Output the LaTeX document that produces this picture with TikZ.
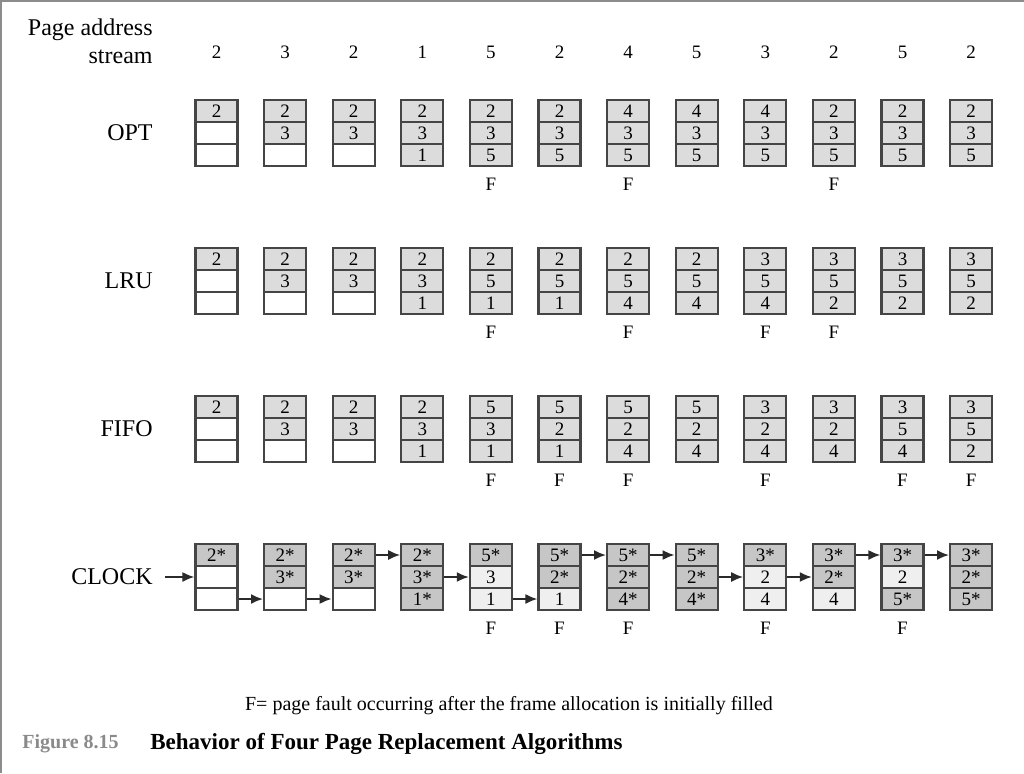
\documentclass[tikz,border=0pt]{standalone}
\usepackage{fontspec}
\setmainfont{Liberation Serif}
\usetikzlibrary{arrows.meta}

\definecolor{framegray}{HTML}{454545}
\definecolor{cellgray}{HTML}{DCDCDC}
\definecolor{setbit}{HTML}{C6C6C6}
\definecolor{clrbit}{HTML}{EFEFEF}
\definecolor{arrowgray}{HTML}{2A2A2A}
\definecolor{bordergray}{HTML}{8C8C8C}
\definecolor{figgray}{HTML}{8A8A8A}

\begin{document}
\begin{tikzpicture}[
    x=0.5pt, y=-0.5pt,
    cell/.style={draw=framegray, line width=1.1pt, fill=white, minimum width=21pt,
      minimum height=11pt, inner sep=0pt, font=\fontsize{9.5}{11}\selectfont},
    num/.style={font=\fontsize{9.5}{11}\selectfont},
    hdr/.style={font=\fontsize{12}{14}\selectfont, anchor=east, inner sep=0pt},
    ptr/.style={-{Latex[length=6pt, width=5pt]}, line width=0.9pt, draw=arrowgray},
  ]
  \useasboundingbox (0,0) rectangle (1024,773);
  \draw[draw=bordergray, line width=1pt] (1,773) -- (1,1) -- (1024,1);

  % ---- page address stream ----
  \node[hdr, align=right] (stream) at (153,41) {Page address\\stream};
  \foreach \v [count=\c] in {2,3,2,1,5,2,4,5,3,2,5,2}
    \node[num] (s-\c) at ({216.5+68.6*(\c-1)},52) {\v};

  % ---- empty frames, three per step ----
  \foreach \alg/\top in {opt/100, lru/248, fifo/396, clk/544}
    \foreach \c in {1,...,12}
      \foreach \r in {1,2,3}
        \node[cell] (\alg-\c-\r) at ({216.5+68.6*(\c-1)},{\top+11+22*(\r-1)}) {};

  % ---- OPT ----
  \node[hdr] (optlab) at (153,133) {OPT};
  \foreach \c/\col in {1/{2}, 2/{2,3}, 3/{2,3}, 4/{2,3,1}, 5/{2,3,5}, 6/{2,3,5},
      7/{4,3,5}, 8/{4,3,5}, 9/{4,3,5}, 10/{2,3,5}, 11/{2,3,5}, 12/{2,3,5}}
    \foreach \v [count=\r] in \col
      \node[cell, fill=cellgray] (opt-\c-\r) at (opt-\c-\r) {\v};
  \foreach \c in {5,7,10}
    \node[num] (opt-f-\c) at ([yshift=-8.5pt]opt-\c-3.south) {F};

  % ---- LRU ----
  \node[hdr] (lrulab) at (153,281) {LRU};
  \foreach \c/\col in {1/{2}, 2/{2,3}, 3/{2,3}, 4/{2,3,1}, 5/{2,5,1}, 6/{2,5,1},
      7/{2,5,4}, 8/{2,5,4}, 9/{3,5,4}, 10/{3,5,2}, 11/{3,5,2}, 12/{3,5,2}}
    \foreach \v [count=\r] in \col
      \node[cell, fill=cellgray] (lru-\c-\r) at (lru-\c-\r) {\v};
  \foreach \c in {5,7,9,10}
    \node[num] (lru-f-\c) at ([yshift=-8.5pt]lru-\c-3.south) {F};

  % ---- FIFO ----
  \node[hdr] (fifolab) at (153,429) {FIFO};
  \foreach \c/\col in {1/{2}, 2/{2,3}, 3/{2,3}, 4/{2,3,1}, 5/{5,3,1}, 6/{5,2,1},
      7/{5,2,4}, 8/{5,2,4}, 9/{3,2,4}, 10/{3,2,4}, 11/{3,5,4}, 12/{3,5,2}}
    \foreach \v [count=\r] in \col
      \node[cell, fill=cellgray] (fifo-\c-\r) at (fifo-\c-\r) {\v};
  \foreach \c in {5,6,7,9,11,12}
    \node[num] (fifo-f-\c) at ([yshift=-8.5pt]fifo-\c-3.south) {F};

  % ---- CLOCK (use bit shown by *) ----
  \node[hdr] (clklab) at (153,577) {CLOCK};
  \foreach \c/\col in {1/{2*/setbit}, 2/{2*/setbit,3*/setbit}, 3/{2*/setbit,3*/setbit},
      4/{2*/setbit,3*/setbit,1*/setbit}, 5/{5*/setbit,3/clrbit,1/clrbit},
      6/{5*/setbit,2*/setbit,1/clrbit}, 7/{5*/setbit,2*/setbit,4*/setbit},
      8/{5*/setbit,2*/setbit,4*/setbit}, 9/{3*/setbit,2/clrbit,4/clrbit},
      10/{3*/setbit,2*/setbit,4/clrbit}, 11/{3*/setbit,2/clrbit,5*/setbit},
      12/{3*/setbit,2*/setbit,5*/setbit}}
    \foreach \v/\k [count=\r] in \col
      \node[cell, fill=\k] (clk-\c-\r) at (clk-\c-\r) {\v};
  \foreach \c in {5,6,7,9,11}
    \node[num] (clk-f-\c) at ([yshift=-8.5pt]clk-\c-3.south) {F};

  % clock hand moves from frame to frame
  \draw[ptr, shorten <=6pt] (clklab.east) -- (clk-1-2.west);
  \foreach \a/\b/\r in {1/2/3, 2/3/3, 3/4/1, 4/5/2, 5/6/3, 6/7/1, 7/8/1,
      8/9/2, 9/10/2, 10/11/1, 11/12/1}
    \draw[ptr] (clk-\a-\r.east) -- (clk-\b-\r.west);

  % ---- notes and caption ----
  \node[font=\fontsize{10}{12}\selectfont] (note) at (509,706)
    {F= page fault occurring after the frame allocation is initially filled};
  \node[anchor=west, inner sep=0pt, text=figgray, font=\bfseries\fontsize{10}{13}\selectfont]
    (fignum) at (22,744) {Figure 8.15};
  \node[anchor=west, inner sep=0pt, font=\bfseries\fontsize{11.5}{13}\selectfont]
    (figtitle) at (150,744) {Behavior of Four Page Replacement Algorithms};
\end{tikzpicture}
\end{document}
